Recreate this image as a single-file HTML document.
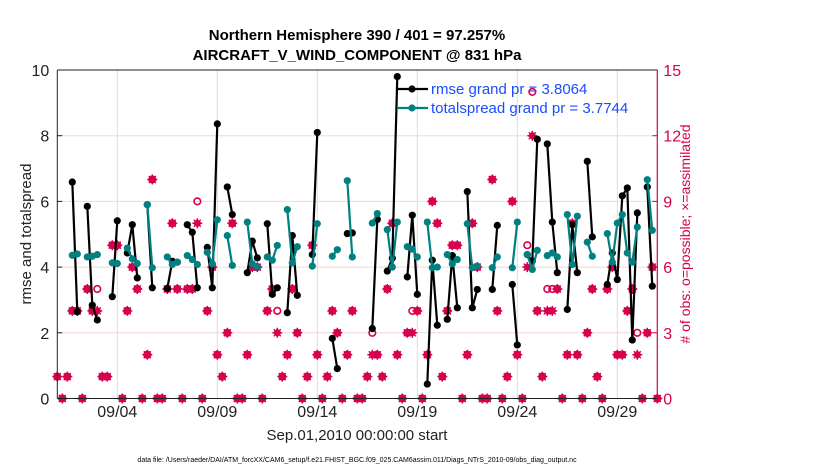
<!DOCTYPE html>
<html><head><meta charset="utf-8"><style>
body{margin:0;background:#fff;}
svg{display:block;font-family:"Liberation Sans",sans-serif;}
</style></head><body>
<svg id="chart" width="830" height="470" viewBox="0 0 830 470" xmlns="http://www.w3.org/2000/svg">
<text x="357" y="40" text-anchor="middle" font-size="15" font-weight="bold">Northern Hemisphere 390 / 401 = 97.257%</text>
<text x="357" y="60" text-anchor="middle" font-size="15" font-weight="bold">AIRCRAFT_V_WIND_COMPONENT @ 831 hPa</text>
<g id="grid"></g><g id="marks"></g><g id="axes"></g>
<text transform="translate(31,234) rotate(-90)" text-anchor="middle" font-size="15" fill="#222">rmse and totalspread</text>
<text transform="translate(690,234) rotate(-90)" text-anchor="middle" font-size="14" fill="#d6004f"># of obs: o=possible; ×=assimilated</text>
<text x="357" y="440" text-anchor="middle" font-size="15" fill="#222">Sep.01,2010 00:00:00 start</text>
<text x="357" y="462" text-anchor="middle" font-size="7" fill="#000">data file: /Users/raeder/DAI/ATM_forcXX/CAM6_setup/f.e21.FHIST_BGC.f09_025.CAM6assim.011/Diags_NTrS_2010-09/obs_diag_output.nc</text>
<g id="legend"></g>
</svg>
<script>
const rmse=[null,null,null,6.59,2.64,null,5.85,2.84,2.39,null,null,3.1,5.41,null,4.43,5.29,3.67,null,5.9,3.37,null,null,3.35,4.18,4.15,null,5.29,5.06,3.37,null,4.6,3.37,8.36,null,6.44,5.6,null,null,3.83,4.79,4.28,null,5.32,3.17,3.37,null,2.61,4.96,3.14,null,null,4.38,8.1,null,null,1.83,0.91,null,5.02,5.04,null,null,null,2.13,5.45,null,3.88,4.27,9.8,null,3.7,5.58,3.17,null,0.44,4.21,2.23,null,2.41,4.35,2.76,null,6.3,2.76,3.32,null,null,3.32,5.27,null,null,3.47,1.63,null,4.38,4.18,7.89,null,7.75,5.37,3.83,null,2.71,5.29,3.83,null,7.22,4.92,null,null,3.47,4.43,3.62,6.17,6.41,1.78,5.65,null,6.44,3.42];
const spread=[null,null,null,4.36,4.4,null,4.31,4.33,4.38,null,null,4.13,4.11,null,4.58,4.25,4.11,null,5.9,3.98,null,null,4.31,4.08,4.15,null,4.35,4.23,4.08,null,4.45,4.1,5.44,null,4.96,4.05,null,null,5.37,4.1,4.0,null,4.31,4.21,4.66,null,5.75,4.13,4.62,null,null,4.03,5.32,null,null,4.33,4.53,null,6.63,4.31,null,null,null,5.34,5.63,null,5.14,4.0,5.37,null,4.62,4.55,4.31,null,5.37,3.98,4.0,null,4.38,4.1,4.23,null,5.32,3.98,4.03,null,null,3.98,4.31,null,null,3.98,5.37,null,4.38,3.93,4.51,null,4.35,4.43,4.31,null,5.6,4.08,5.55,null,4.76,4.33,null,null,5.02,4.15,5.34,5.6,4.43,4.15,5.22,null,6.66,5.12];
const assimilated=[1,0,1,4,4,0,5,4,4,1,1,7,7,0,4,6,5,0,2,10,0,0,5,8,5,0,5,5,8,0,4,6,2,1,3,8,0,0,2,6,6,0,4,5,3,1,2,5,3,0,1,7,2,0,1,4,3,0,2,4,0,0,1,2,2,1,5,8,2,0,3,3,4,0,2,9,8,1,4,7,7,0,2,8,6,0,0,10,4,0,1,9,2,0,6,12,4,1,4,4,5,0,2,8,2,0,3,5,1,0,5,6,2,2,4,5,2,0,3,6,0];
const possible=[1,0,1,4,4,0,5,4,5,1,1,7,7,0,4,6,5,0,2,10,0,0,5,8,5,0,5,5,9,0,4,6,2,1,3,8,0,0,2,6,6,0,4,5,4,1,2,5,3,0,1,7,2,0,1,4,3,0,2,4,0,0,1,3,2,1,5,8,2,0,3,4,4,0,2,9,8,1,4,7,7,0,2,8,6,0,0,10,4,0,1,9,2,0,7,14,4,1,5,5,5,0,2,8,2,0,3,5,1,0,5,6,2,2,4,5,3,0,3,6,0];
const leftTicks=[0,2,4,6,8,10];
const rightTicks=[0,3,6,9,12,15];
const dateTicks=["09/04","09/09","09/14","09/19","09/24","09/29"];
const dateTickDays=[3,8,13,18,23,28];
const legendLabels=["rmse grand pr = 3.8064","totalspread grand pr = 3.7744"];

const NS="http://www.w3.org/2000/svg";
const X0=57.3,X1=657.3,Y0=398.5,Y1=70;
const xDay=d=>X0+(X1-X0)*d/30;
const xT=t=>xDay(t/4);
const yL=v=>Y0-(Y0-Y1)*v/10;
const yR=v=>Y0-(Y0-Y1)*v/15;
const PINK="#d6004f",TEAL="#008080";
function mk(tag,attrs,parent){const e=document.createElementNS(NS,tag);for(const k in attrs)e.setAttribute(k,attrs[k]);parent.appendChild(e);return e;}
const grid=document.getElementById('grid'),marks=document.getElementById('marks'),axes=document.getElementById('axes');
leftTicks.forEach((v,i)=>{
  const l=mk('line',{x1:X0,x2:X1,y1:yL(v),y2:yL(v),stroke:"#f0d6de","stroke-width":1},grid);
  
  
  const t=mk('text',{x:X0-8,y:yL(v)+6,"text-anchor":"end","font-size":16,fill:"#222"},axes);t.textContent=v;
  
  
  mk('line',{x1:X0,x2:X0+5,y1:yL(v),y2:yL(v),stroke:"#222"},axes);
});
rightTicks.forEach(v=>{
  const t=mk('text',{x:X1+6,y:yR(v)+6,"font-size":16,fill:PINK},axes);t.textContent=v;
  
  
  mk('line',{x1:X1-5,x2:X1,y1:yR(v),y2:yR(v),stroke:PINK},axes);
});
dateTicks.forEach((lab,i)=>{
  const x=xDay(dateTickDays[i]);
  const g=mk('line',{x1:x,x2:x,y1:Y1,y2:Y0,stroke:"#dcdcdc"},grid);
  
  
  const t=mk('text',{x:x,y:417,"text-anchor":"middle","font-size":16,fill:"#222"},axes);t.textContent=lab;
  
  
});
mk('line',{x1:X0,x2:X1,y1:Y1,y2:Y1,stroke:"#222"},axes);
mk('line',{x1:X0,x2:X1,y1:Y0,y2:Y0,stroke:"#222"},axes);
mk('line',{x1:X0,x2:X0,y1:Y1,y2:Y0,stroke:"#222"},axes);
mk('line',{x1:X1,x2:X1,y1:Y1,y2:Y0,stroke:PINK,"stroke-width":1.2},axes);

function star(x,y,parent){
  const g=mk('g',{},parent);
  
  
  mk('path',{d:`M${x-4.5} ${y}L${x} ${y-4.5}L${x+4.5} ${y}L${x} ${y+4.5}Z`,fill:PINK},g);
  mk('path',{d:`M${x-5} ${y}H${x+5}M${x} ${y-5}V${y+5}M${x-3.5} ${y-3.5}L${x+3.5} ${y+3.5}M${x-3.5} ${y+3.5}L${x+3.5} ${y-3.5}`,stroke:PINK,"stroke-width":1.4},g);
}
possible.forEach((v,t)=>{
  const c=mk('circle',{cx:xT(t),cy:yR(v),r:3.3,fill:"none",stroke:PINK,"stroke-width":1.6},marks);
  
  
});
assimilated.forEach((v,t)=>star(xT(t),yR(v),marks));

function series(arr,color,name){
  let d="",pen=false;
  arr.forEach((v,t)=>{if(v===null){pen=false;return;}d+=(pen?"L":"M")+xT(t).toFixed(1)+" "+yL(v).toFixed(1);pen=true;});
  const p=mk('path',{d:d,fill:"none",stroke:color,"stroke-width":2.2},marks);
  
  
  arr.forEach((v,t)=>{if(v===null)return;
    const c=mk('circle',{cx:xT(t),cy:yL(v),r:3.6,fill:color},marks);
    
    
  });
}
series(rmse,"#000","rmse");
series(spread,TEAL,"totalspread");

const leg=document.getElementById('legend');
[["#000",89],[TEAL,108]].forEach((s,i)=>{
  mk('line',{x1:397,x2:428,y1:s[1],y2:s[1],stroke:s[0],"stroke-width":2.2},leg);
  mk('circle',{cx:412,cy:s[1],r:3.6,fill:s[0]},leg);
  const t=mk('text',{x:431,y:s[1]+5,"font-size":15,fill:"#1a4cff"},leg);t.textContent=legendLabels[i];
  
  
});
</script>
</body></html>
